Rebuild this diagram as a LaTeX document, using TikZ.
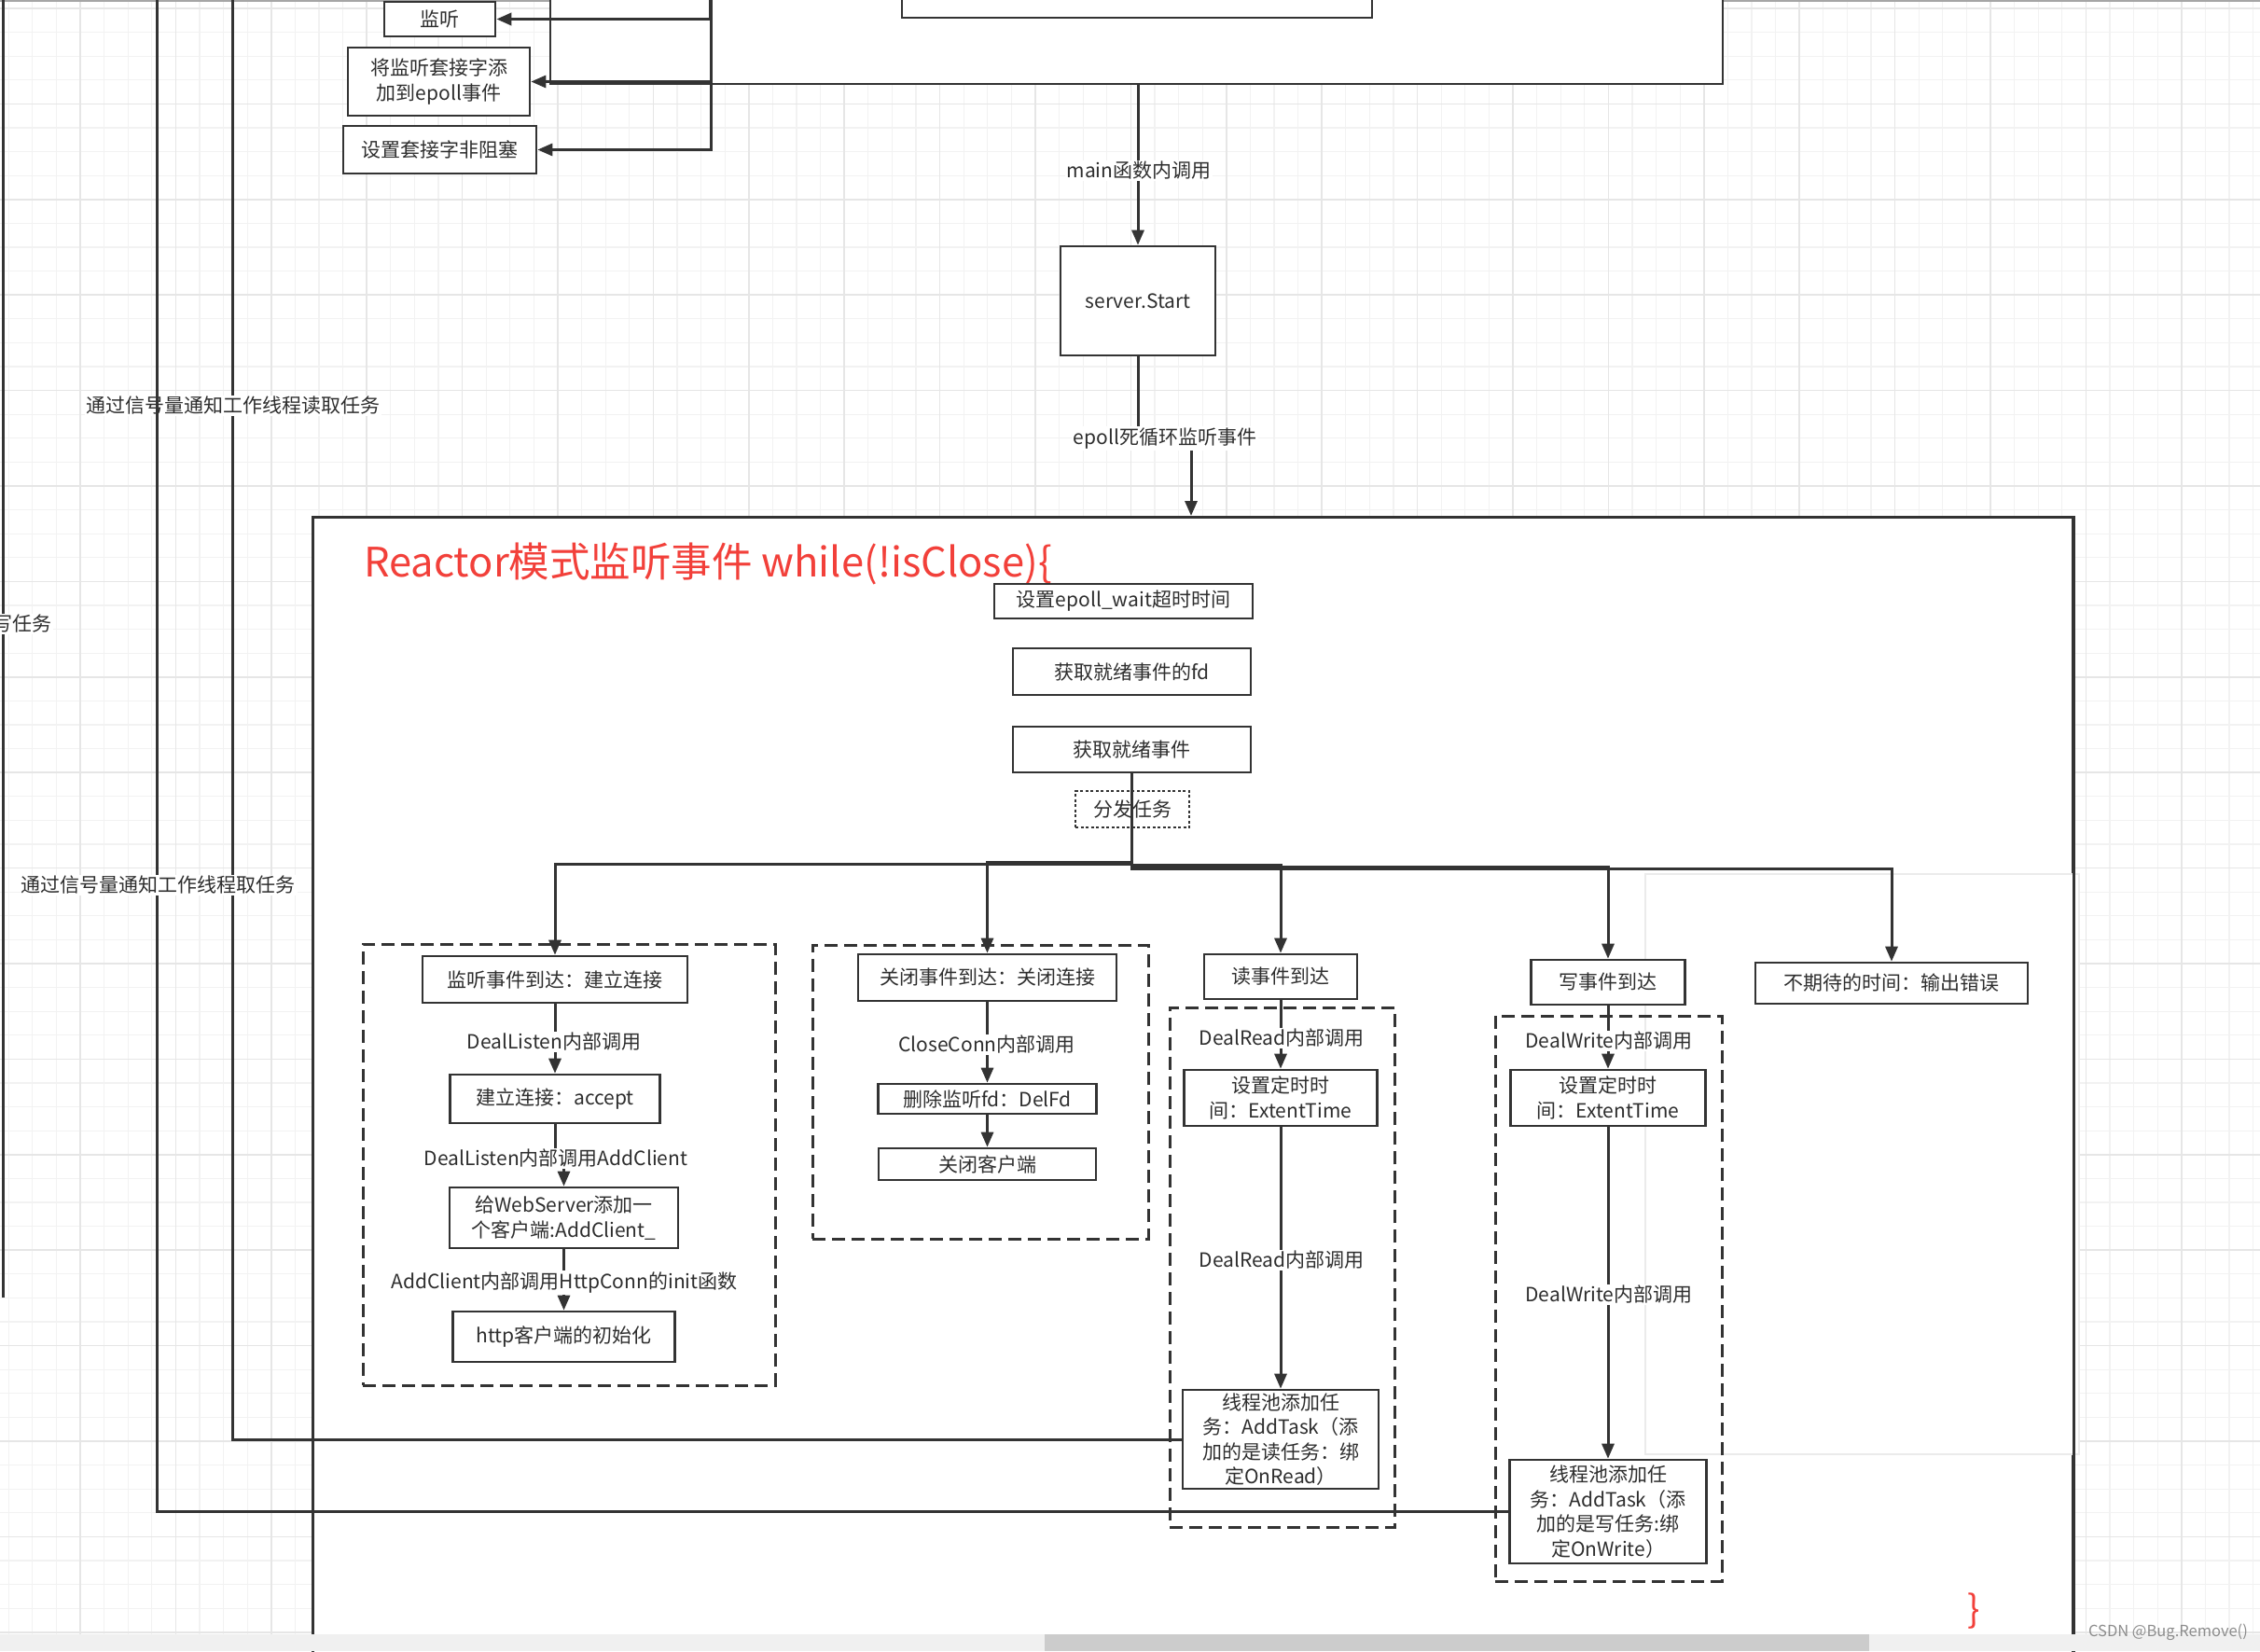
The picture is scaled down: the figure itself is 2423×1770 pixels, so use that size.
\documentclass[tikz,border=0pt]{standalone}
\usepackage{fontspec}
\setmainfont{Noto Sans CJK SC}
\usetikzlibrary{arrows.meta}
\definecolor{ln}{HTML}{333333}
\definecolor{txt}{HTML}{2E2E2E}
\definecolor{rd}{HTML}{F2403A}
\definecolor{gminor}{HTML}{F2F2F2}
\definecolor{gmajor}{HTML}{E6E6E6}
\newcommand\myfs{\fontsize{21}{26.5}\selectfont}
\begin{document}
\begin{tikzpicture}[x=1pt,y=-1pt,
  sz/.style 2 args={minimum width=#1pt, minimum height=#2pt},
  box/.style={draw=ln, line width=2.6pt, fill=white, inner sep=0pt, align=center, font=\myfs, text=txt},
  dbox/.style={draw=ln, line width=2.6pt, dash pattern=on 14pt off 7pt, inner sep=0pt},
  lab/.style={fill=white, inner sep=1.5pt, font=\myfs, text=txt},
  arr/.style={draw=ln, line width=3pt, -{Triangle[length=16pt,width=13pt]}},
  ln3/.style={draw=ln, line width=3pt}]
\useasboundingbox (0,0) rectangle (2423,1770);
\clip (0,0) rectangle (2423,1770);
\fill[white] (0,0) rectangle (2423,1770);
% grid
\foreach \i in {0,...,95} \draw[gminor, line width=1.3pt] ({9.2+25.6*\i},0) -- ({9.2+25.6*\i},1770);
\foreach \j in {0,...,70} \draw[gminor, line width=1.3pt] (0,{9+25.6*\j}) -- (2423,{9+25.6*\j});
\foreach \i in {1,...,24} \draw[gmajor, line width=1.5pt] ({-16.4+102.4*\i},0) -- ({-16.4+102.4*\i},1770);
\foreach \j in {0,...,17} \draw[gmajor, line width=1.5pt] (0,{9+102.4*\j}) -- (2423,{9+102.4*\j});
\fill[black!35] (0,0) rectangle (2423,2);

% ---- top part
\node[box, sz={1257}{140}] (topbox) at (1218.5,20) {};
\node[box, sz={504}{50}] (inner) at (1219,-6) {};
\node[box, sz={119}{37}] (jt) at (471.5,20.5) {监听};
\node[box, sz={195}{73}] (addep) at (470.5,87.5) {将监听套接字添\\加到epoll事件};
\node[box, sz={207}{51}] (nonblk) at (471.5,160.5) {设置套接字非阻塞};
\coordinate (v762) at (762,-10);
\draw[arr, line width=3.5pt] (v762) |- (jt.east);
\draw[arr] (v762) |- (addep.east);
\draw[arr] (v762) |- (nonblk.east);

\node[box, sz={166}{117}] (start) at (1220,322.5) {server.Start};
\draw[arr] (start.north |- topbox.south) -- (start.north);
\node[lab] (lmain) at (1221,183) {main函数内调用};

% ---- Reactor container
\node[box, sz={1887}{1300}, anchor=north west] (reactor) at (334,553) {};
\node[fill=white, draw=black!8, line width=2pt, sz={465}{622}, anchor=north west, inner sep=0pt] (panel) at (1763,936) {};
\draw[ln3, line width=2.6pt] (reactor.north east) -- (reactor.south east);

\coordinate (ej) at (0,470);
\coordinate (etip) at (1277,553);
\draw[arr] (start.south) -- (start.south |- ej) -| (etip);
\node[lab] (lepoll) at (1249,470) {epoll死循环监听事件};

\node[text=rd, font=\fontsize{43.5}{50}\selectfont, anchor=west, inner sep=0pt] (title) at (390,604) {Reactor模式监听事件 while(!isClose)\{};

\node[box, sz={277}{37}] (ewait) at (1204.5,644.5) {设置epoll\_wait超时时间};
\node[box, sz={255}{50}] (getfd) at (1213.5,720) {获取就绪事件的fd};
\node[box, sz={255}{49}] (getev) at (1213.5,803.5) {获取就绪事件};
\node[draw=ln, line width=2.6pt, dash pattern=on 3pt off 2.5pt, sz={122}{39}, font=\myfs, text=txt, inner sep=0pt] (disp) at (1214,867.5) {分发任务};

% dashed groups
\node[dbox, sz={442}{473}, anchor=north west] (dl) at (388,1011) {};
\node[dbox, sz={360}{315}, anchor=north west] (dc) at (870,1012) {};
\node[dbox, sz={241}{557}, anchor=north west] (dr) at (1253,1079) {};
\node[dbox, sz={243}{606}, anchor=north west] (dw) at (1602,1088) {};

% listen column
\node[box, sz={284}{50}] (listen) at (595,1050) {监听事件到达：建立连接};
\node[box, sz={225}{52}] (accept) at (595,1178) {建立连接：accept};
\node[box, sz={245}{65}] (addc) at (604.5,1305.5) {给WebServer添加一\\个客户端:AddClient\_};
\node[box, sz={238}{54}] (http) at (604.5,1433) {http客户端的初始化};

% close column
\node[box, sz={277}{50}] (closeev) at (1058.5,1048) {关闭事件到达：关闭连接};
\node[box, sz={234}{32}] (delfd) at (1058.5,1178) {删除监听fd：DelFd};
\node[box, sz={233}{34}] (closecli) at (1058.5,1248) {关闭客户端};

% read column
\node[box, sz={164}{48}] (readev) at (1373,1047) {读事件到达};
\node[box, sz={207}{60}] (rtimer) at (1373,1177) {设置定时时\\间：ExtentTime};
\node[box, sz={210}{106}] (rtask) at (1373,1543) {线程池添加任\\务：AddTask（添\\加的是读任务：绑\\定OnRead）};

% write column
\node[box, sz={165}{48}] (writeev) at (1724,1053) {写事件到达};
\node[box, sz={209}{60}] (wtimer) at (1724,1177) {设置定时时\\间：ExtentTime};
\node[box, sz={211}{111}] (wtask) at (1724,1620.5) {线程池添加任\\务：AddTask（添\\加的是写任务:绑\\定OnWrite）};

\node[box, sz={292}{44}] (unexp) at (2028,1054) {不期待的时间：输出错误};

% branch connectors
\coordinate (h1) at (0,924);
\coordinate (h2) at (0,926);
\coordinate (h3) at (0,927);
\coordinate (h4) at (0,929);
\coordinate (h5) at (0,931);
\draw[arr] (getev.south) -- (getev.south |- h2) -| (listen.north);
\draw[arr] (getev.south) -- (getev.south |- h1) -| (closeev.north);
\draw[arr] (getev.south) -- (getev.south |- h3) -| (readev.north);
\draw[arr] (getev.south) -- (getev.south |- h4) -| (writeev.north);
\draw[arr] (getev.south) -- (getev.south |- h5) -| (unexp.north);

% inner connectors
\coordinate (jy1) at (0,1242);
\draw[arr] (listen.south) -- (accept.north);
\draw[arr] (accept.south) -- (accept.south |- jy1) -| (addc.north);
\draw[arr] (addc.south) -- (http.north);
\draw[arr] (closeev.south) -- (delfd.north);
\draw[arr] (delfd.south) -- (closecli.north);
\draw[arr] (readev.south) -- (rtimer.north);
\draw[arr] (rtimer.south) -- (rtask.north);
\draw[arr] (writeev.south) -- (wtimer.north);
\draw[arr] (wtimer.south) -- (wtask.north);

\node[lab] (ldl1) at (594,1117) {DealListen内部调用};
\node[lab] (ldl2) at (596,1242) {DealListen内部调用AddClient};
\node[lab] (ldl3) at (605,1375) {AddClient内部调用HttpConn的init函数};
\node[lab] (lcc) at (1058,1120) {CloseConn内部调用};
\node[lab] (lr1) at (1374,1113) {DealRead内部调用};
\node[lab] (lr2) at (1374,1351) {DealRead内部调用};
\node[lab] (lw1) at (1725,1116) {DealWrite内部调用};
\node[lab] (lw2) at (1725,1388) {DealWrite内部调用};

% signal lines to worker threads
\coordinate (t249) at (249,-10);
\draw[ln3] (rtask.west) -| (t249);
\node[lab] (lread) at (250,435) {通过信号量通知工作线程读取任务};
\coordinate (t168) at (168,-10);
\draw[ln3] (wtask.west) -| (t168);
\node[lab] (ltake) at (170,949) {通过信号量通知工作线程取任务};
\coordinate (t3a) at (3,-10);
\coordinate (t3b) at (3,1391);
\draw[ln3] (t3a) -- (t3b);
\node[lab, anchor=east] (lwrite) at (57,669) {通过信号量通知工作线程写任务};

% closing brace and screen chrome
\node[text=rd, font=\fontsize{40}{48}\selectfont, inner sep=0pt] (rbrace) at (2116,1727) {\}};
\fill[black!6] (0,1752) rectangle (2423,1770);
\fill[black!20] (1120,1752) rectangle (2004,1770);
\node[text=black!45, font=\fontsize{16.5}{18}\selectfont, anchor=east, inner sep=0pt] (wm) at (2410,1750) {CSDN @Bug.Remove()};
\end{tikzpicture}
\end{document}
